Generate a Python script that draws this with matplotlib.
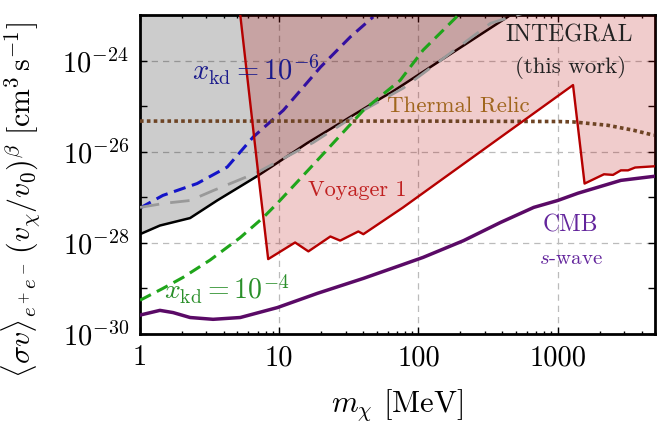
import numpy as np
import matplotlib
matplotlib.use("Agg")
import matplotlib.pyplot as plt
from matplotlib.ticker import FixedLocator, NullFormatter, LogLocator

plt.rcParams['mathtext.fontset'] = 'cm'
plt.rcParams['font.family'] = 'serif'
plt.rcParams['font.serif'] = ['cmr10', 'DejaVu Serif']
plt.rcParams['axes.unicode_minus'] = False

# ---------------- data ----------------
black_x = [1, 1.39, 2.29, 3.58, 7.06, 15.9, 56, 63, 459]
black_y = [1.55e-28, 2.4e-28, 3.5e-28, 8.5e-28, 3.0e-27, 1.55e-26, 1.6e-25, 1.95e-25, 1.0e-23]

gdash_x = [1, 1.51, 2.29, 3.35, 6.95, 9.06, 17.6, 40.2, 78, 330, 569]
gdash_y = [6.0e-28, 7.4e-28, 8.5e-28, 1.4e-27, 3.5e-27, 5.4e-27, 1.6e-26, 8.1e-26, 2.5e-25, 6.6e-24, 1.1e-23]

blue_x = [1, 1.46, 2.57, 4.23, 6.5, 10.7, 19.8, 32.4, 47.3]
blue_y = [5.8e-28, 1.1e-27, 2.0e-27, 4.6e-27, 2.1e-26, 8.1e-26, 7.2e-25, 3.3e-24, 9.1e-24]

green_x = [1, 1.46, 2.04, 3.19, 5.24, 7.68, 9.7, 18.8, 40.2, 74, 108, 200]
green_y = [5.5e-30, 1.0e-29, 1.75e-29, 4.2e-29, 1.3e-28, 3.6e-28, 7.4e-28, 6.5e-27, 8.1e-26, 3.7e-25, 1.7e-24, 1.1e-23]

relic_x = [1, 10, 100, 1000, 1300, 2290, 3520, 4900]
relic_y = [4.7e-26, 4.7e-26, 4.7e-26, 4.6e-26, 4.5e-26, 3.8e-26, 2.95e-26, 2.3e-26]

voy_x = [5.25, 7.06, 8.33, 13.0, 16.2, 23.3, 27.4, 37.0, 40.2, 77, 1289, 1560, 2150, 2497, 2843, 3200, 3600, 5000]
voy_y = [1.0e-23, 3.4e-27, 4.4e-29, 1.02e-28, 6.5e-29, 1.38e-28, 1.12e-28, 1.78e-28, 1.55e-28, 5.9e-28,
         2.9e-25, 2.0e-27, 3.2e-27, 3.1e-27, 3.9e-27, 3.9e-27, 4.5e-27, 4.8e-27]

cmb_x = [1, 1.39, 1.73, 2.29, 3.35, 5.25, 9.7, 18.8, 40.2, 74.2, 108, 211, 388, 673, 1000, 1400, 2843, 5000]
cmb_y = [2.6e-30, 3.3e-30, 2.95e-30, 2.3e-30, 2.1e-30, 2.3e-30, 3.8e-30, 7.8e-30, 1.66e-29, 3.2e-29,
         4.8e-29, 1.12e-28, 2.8e-28, 6.0e-28, 8.5e-28, 1.23e-27, 2.35e-27, 2.9e-27]

x_ticks = [1, 10, 100, 1000]
x_ticklabels = ['1', '10', '100', '1000']
y_ticks = [1e-30, 1e-29, 1e-28, 1e-27, 1e-26, 1e-25, 1e-24, 1e-23]
y_ticklabels = [r'$10^{-30}$', '', r'$10^{-28}$', '', r'$10^{-26}$', '', r'$10^{-24}$', '']
grid_x = [10, 100, 1000]
grid_y = [1e-28, 1e-26, 1e-24]

XMIN, XMAX, YMIN, YMAX = 1, 5000, 1e-30, 1e-23

# ---------------- figure ----------------
fig = plt.figure(figsize=(6.57, 4.26), dpi=100)
ax = fig.add_axes([140/657, 1-334/426, 515/657, 319/426])
ax.set_xscale('log')
ax.set_yscale('log')
ax.set_xlim(XMIN, XMAX)
ax.set_ylim(YMIN, YMAX)

for gx in grid_x:
    ax.axvline(gx, color='#bbbbbb', lw=0.9, ls=(0, (5, 4)), zorder=0.5)
for gy in grid_y:
    ax.axhline(gy, color='#bbbbbb', lw=0.9, ls=(0, (5, 4)), zorder=0.5)

# gray region
ax.fill_between(black_x, black_y, YMAX, color='black', alpha=0.2, lw=0, zorder=1)

# lines under the pink fill
ax.plot(blue_x, blue_y, color='#1414c8', lw=2.2, ls=(0, (4, 2.2)), zorder=2)
ax.plot(black_x, black_y, color='black', lw=1.8, zorder=2)

# Voyager pink region
ax.fill_between(voy_x, voy_y, YMAX, color='#b40000', alpha=0.2, lw=0, zorder=3)

ax.plot(gdash_x, gdash_y, color='#999999', lw=2.0, ls=(0, (7, 4)), zorder=4)
ax.plot(green_x, green_y, color='#1fa51a', lw=2.2, ls=(0, (4, 2.2)), zorder=4)
ax.plot(relic_x, relic_y, color='#6e4424', lw=2.6, ls=(0, (1.0, 0.9)), zorder=4)
ax.plot(voy_x, voy_y, color='#b50000', lw=1.7, zorder=5)
ax.plot(cmb_x, cmb_y, color='#5a0a66', lw=2.5, zorder=5)

# annotations
ax.text(10**(116/139), 10**(-23 - 55/45.5), r'$x_{\rm kd} = 10^{-6}$', color='#1a1a8c',
        fontsize=20.5, ha='center', va='center', zorder=6)
ax.text(10**(86/139), 10**(-23 - 274/45.5), r'$x_{\rm kd} = 10^{-4}$', color='#2a8f2a',
        fontsize=20, ha='center', va='center', zorder=6)
ax.text(10**(217/139), 10**(-23 - 175/45.5), 'Voyager 1', color='#c02020',
        fontsize=16, ha='center', va='center', zorder=6)
ax.text(10**(318/139), 10**(-23 - 91/45.5), 'Thermal Relic', color='#a0661e',
        fontsize=16.5, ha='center', va='center', zorder=6)
ax.text(10**(428/139), 10**(-23 - 20/45.5), 'INTEGRAL', color='#222222',
        fontsize=17, ha='center', va='center', zorder=6)
ax.text(10**(430/139), 10**(-23 - 52/45.5), '(this work)', color='#222222',
        fontsize=16.5, ha='center', va='center', zorder=6)
ax.text(10**(430/139), 10**(-23 - 210/45.5), 'CMB', color='#63259c',
        fontsize=17, ha='center', va='center', zorder=6)
ax.text(10**(430/139), 10**(-23 - 244/45.5), r'$s$-wave', color='#63259c',
        fontsize=15, ha='center', va='center', zorder=6)

# ticks
ax.xaxis.set_major_locator(FixedLocator(x_ticks))
ax.set_xticklabels(x_ticklabels)
ax.xaxis.set_minor_locator(LogLocator(base=10, subs=np.arange(2, 10), numticks=20))
ax.xaxis.set_minor_formatter(NullFormatter())
ax.yaxis.set_major_locator(FixedLocator(y_ticks))
ax.set_yticklabels(y_ticklabels)
ax.yaxis.set_minor_locator(FixedLocator([]))
ax.tick_params(which='both', direction='in', top=True, right=True, labelsize=20.5, width=1.0)
ax.tick_params(which='major', length=5, pad=8)
ax.tick_params(which='minor', length=2.5)
for s in ax.spines.values():
    s.set_linewidth(2.0)

ax.set_xlabel(r'$m_\chi$ [MeV]', fontsize=22)
ax.xaxis.set_label_coords(0.5, -0.165)
ax.set_ylabel(r'$\langle\sigma v\rangle_{e^+e^-}\,(v_\chi/v_0)^\beta\ [\mathrm{cm}^3\,\mathrm{s}^{-1}]$',
              fontsize=21.5)
ax.yaxis.set_label_coords(-0.19, 0.42)

fig.savefig('out.png', dpi=100)
